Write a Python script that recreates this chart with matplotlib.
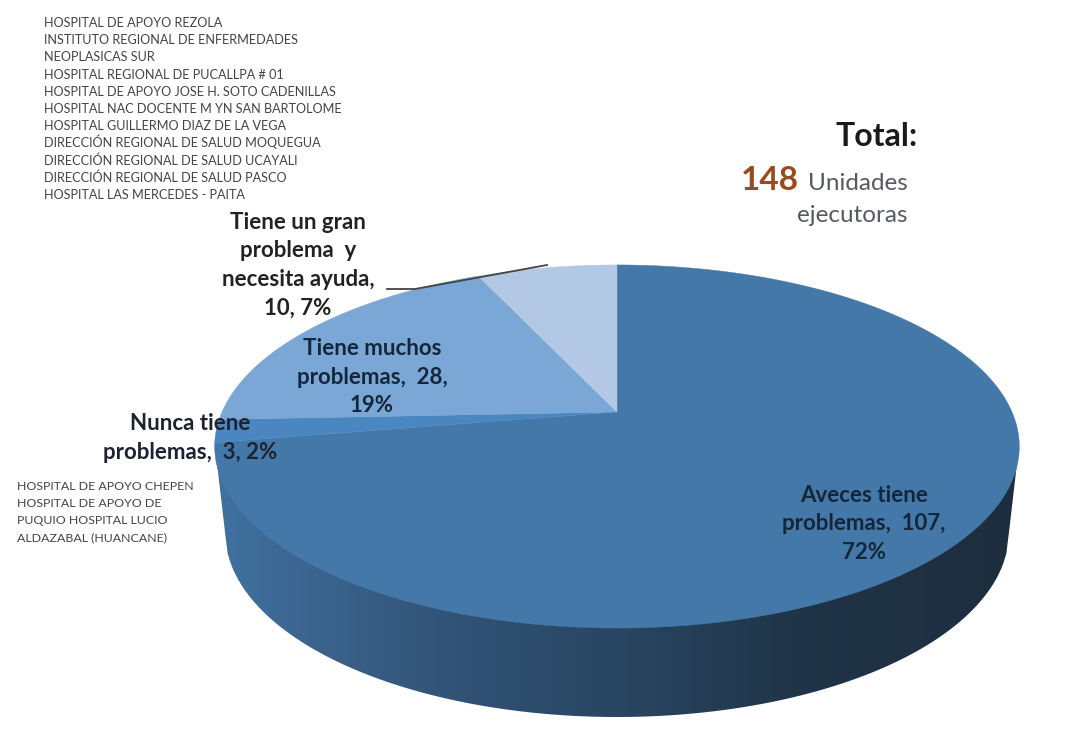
import numpy as np
import matplotlib
matplotlib.use("Agg")
import matplotlib.pyplot as plt
from matplotlib.colors import LinearSegmentedColormap
from matplotlib.patches import Polygon

plt.rcParams['font.family'] = ['Lato', 'DejaVu Sans']

# data
categories = ["Aveces tiene\nproblemas,  107,\n72%",
              "Nunca tiene\nproblemas,  3, 2%",
              "Tiene muchos\nproblemas,  28,\n19%",
              "Tiene un gran\nproblema  y\nnecesita ayuda,\n10, 7%"]
values = [107, 3, 28, 10]
colors = ["#4478a8", "#4a86bf", "#7ba7d7", "#b2c8e4"]
total = 148
list_top = ["HOSPITAL DE APOYO REZOLA",
            "INSTITUTO REGIONAL DE ENFERMEDADES",
            "NEOPLASICAS SUR",
            "HOSPITAL REGIONAL DE PUCALLPA # 01",
            "HOSPITAL DE APOYO JOSE H. SOTO CADENILLAS",
            "HOSPITAL NAC DOCENTE M YN SAN BARTOLOME",
            "HOSPITAL GUILLERMO DIAZ DE LA VEGA",
            "DIRECCIÓN REGIONAL DE SALUD MOQUEGUA",
            "DIRECCIÓN REGIONAL DE SALUD UCAYALI",
            "DIRECCIÓN REGIONAL DE SALUD PASCO",
            "HOSPITAL LAS MERCEDES - PAITA"]
list_left = ["HOSPITAL DE APOYO CHEPEN",
             "HOSPITAL DE APOYO DE",
             "PUQUIO HOSPITAL LUCIO",
             "ALDAZABAL (HUANCANE)"]

# pie geometry, in pixels of the picture
APEX_X, APEX_Y = 617, 412
SX, SY, K = 395, 175, 0.19


def rim(theta):
    # theta clockwise from 12 o'clock, perspective projection of a circle
    x = np.sin(theta)
    y = np.cos(theta)
    d = 1 + K * y
    return APEX_X + SX * x / d, APEX_Y - SY * y / d


fig = plt.figure(figsize=(10.77, 7.38), dpi=100)
ax = fig.add_axes([0, 0, 1, 1])
ax.set_xlim(0, 1077)
ax.set_ylim(738, 0)
ax.axis("off")

# side wall
xs = np.linspace(-1, 1, 300)
top_edge = 446 + 181 * np.sqrt(1 - xs**2)
low_edge = 532 + 185 * np.sqrt(1 - xs**2)
wall = np.vstack([np.c_[617 + 402 * xs, top_edge],
                  np.c_[617 + 392 * xs, low_edge][::-1]])
wall_patch = Polygon(wall, closed=True, fc="none", ec="none")
ax.add_patch(wall_patch)
cmap = LinearSegmentedColormap.from_list(
    "wall", [(0, "#4072a0"), (0.22, "#36597f"), (0.35, "#2e4f70"), (0.5, "#294663"),
             (0.73, "#203447"), (1, "#1d2d3e")])
im = ax.imshow(np.linspace(0, 1, 256)[None, :], cmap=cmap, aspect="auto",
               extent=[215, 1020, 738, 0], zorder=1)
ax.set_xlim(0, 1077)
ax.set_ylim(738, 0)
im.set_clip_path(wall_patch)

# top of the pie
edges = np.cumsum([0] + values) / sum(values) * 2 * np.pi
for i in range(len(values)):
    t = np.linspace(edges[i], edges[i + 1], 200)
    px, py = rim(t)
    pts = np.vstack([[APEX_X, APEX_Y], np.c_[px, py]])
    ax.add_patch(Polygon(pts, closed=True, fc=colors[i], ec=colors[i], lw=0.3, zorder=2))

# leader line
ax.plot([387, 415, 547], [289, 289, 265], color="#444444", lw=1.3, zorder=3)

# slice labels
dark = "#14263a"
label_kw = dict(ha="center", va="center", fontsize=16, fontweight="bold", linespacing=1.45, zorder=4)
ax.text(864, 524, categories[0], color=dark, **label_kw)
ax.text(190, 438, categories[1], color="#1d2230", **label_kw)
ax.text(372, 377, categories[2], color=dark, **label_kw)
ax.text(298, 265, categories[3], color="#222222", **label_kw)

# hospital lists
for i, name in enumerate(list_top):
    ax.text(44, 27 + i * 17.2, name, ha="left", va="baseline", fontsize=9.1, color="#444444")
for i, name in enumerate(list_left):
    ax.text(17, 490 + i * 17, name, ha="left", va="baseline", fontsize=8.95, color="#444444")

# total box
ax.text(918, 137, "Total:", ha="right", va="center", fontsize=23, fontweight="bold", color="#1a1a1a")
ax.text(741, 180, str(total), ha="left", va="center", fontsize=24, fontweight="bold", color="#9a4a20")
ax.text(908, 183, "Unidades", ha="right", va="center", fontsize=17.5, color="#555a60")
ax.text(908, 216, "ejecutoras", ha="right", va="center", fontsize=17.5, color="#555a60")

fig.savefig("out.png", dpi=100, facecolor="white")
